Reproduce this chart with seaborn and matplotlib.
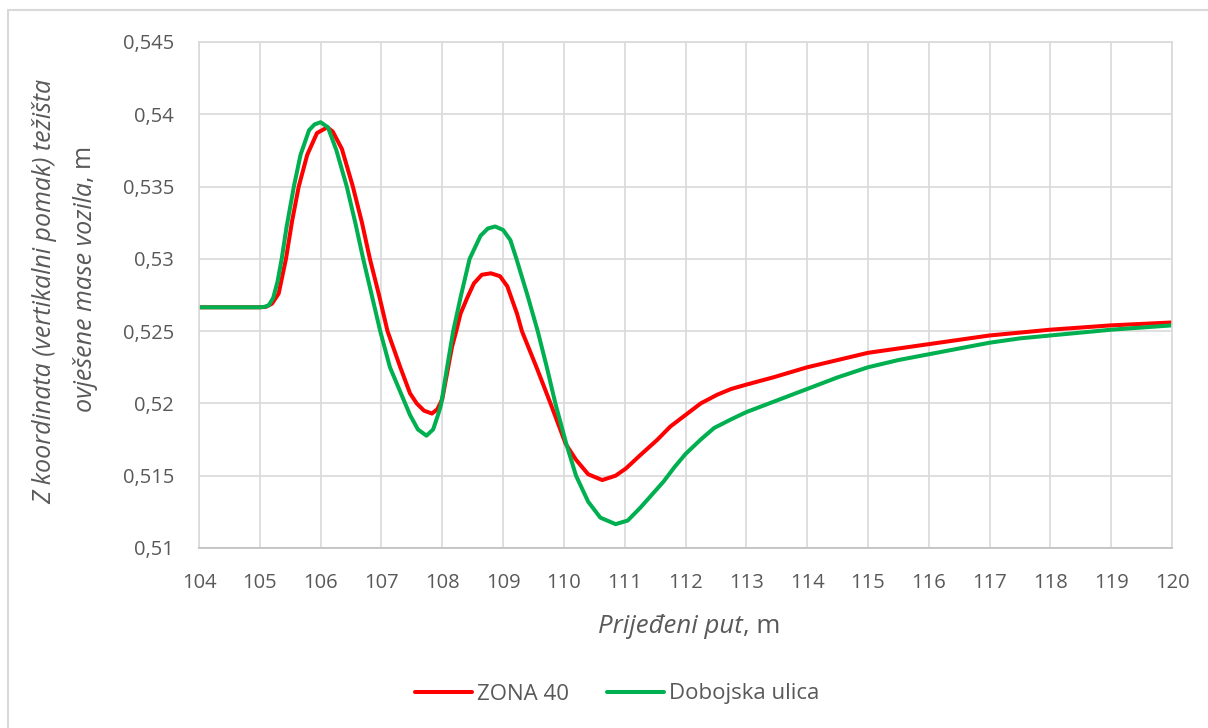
import numpy as np
import pandas as pd
import matplotlib
matplotlib.use('Agg')
import matplotlib.pyplot as plt
import seaborn as sns
from matplotlib.patches import Rectangle

# podaci očitani s grafa
zona_x = [104, 104.5, 105.0, 105.1, 105.2, 105.31, 105.43, 105.53, 105.64, 105.78, 105.94,
          106.11, 106.2, 106.35, 106.53, 106.68, 106.81, 106.96, 107.10, 107.31, 107.47,
          107.58, 107.7, 107.83, 107.92, 108.0, 108.08, 108.16, 108.23, 108.3, 108.41, 108.52,
          108.65, 108.80, 108.95, 109.07, 109.23, 109.31, 109.55, 109.78, 110.03, 110.2,
          110.4, 110.63, 110.85, 111.02, 111.25, 111.54, 111.75, 112.0, 112.25, 112.52,
          112.75, 113.0, 113.44, 114.0, 114.5, 115.0, 115.5, 116.0, 116.5, 117.0, 117.5,
          118.0, 118.5, 119.0, 119.5, 120.0]
zona_y = [0.52665, 0.52665, 0.52665, 0.52668, 0.5269, 0.5276, 0.5300, 0.5326, 0.5350, 0.5372,
          0.5387, 0.5391, 0.5388, 0.5376, 0.5350, 0.5325, 0.5300, 0.5275, 0.5250, 0.5225,
          0.5207, 0.5200, 0.5195, 0.5193, 0.5196, 0.5203, 0.5221, 0.5239, 0.5250, 0.5262,
          0.5273, 0.5283, 0.5289, 0.5290, 0.5288, 0.5281, 0.5262, 0.5250, 0.5225, 0.5200,
          0.5172, 0.5161, 0.5151, 0.5147, 0.5150, 0.5155, 0.5164, 0.5175, 0.5184, 0.5192,
          0.5200, 0.5206, 0.5210, 0.5213, 0.5218, 0.5225, 0.5230, 0.5235, 0.5238, 0.5241,
          0.5244, 0.5247, 0.5249, 0.5251, 0.52525, 0.5254, 0.5255, 0.5256]

dob_x = [104, 104.5, 105.0, 105.08, 105.15, 105.22, 105.29, 105.36, 105.44, 105.56, 105.67,
         105.81, 105.9, 106.0, 106.12, 106.26, 106.43, 106.57, 106.70, 106.84, 106.98, 107.14,
         107.39, 107.47, 107.6, 107.74, 107.85, 107.93, 107.98, 108.08, 108.18, 108.31, 108.45,
         108.63, 108.75, 108.87, 109.0, 109.12, 109.22, 109.4, 109.57, 109.72, 109.86, 110.04,
         110.2, 110.4, 110.6, 110.85, 111.05, 111.26, 111.45, 111.64, 111.82, 112.0, 112.25,
         112.47, 112.75, 113.0, 113.5, 114.0, 114.5, 115.0, 115.5, 116.0, 116.5, 117.0,
         117.5, 118.0, 118.5, 119.0, 119.5, 120.0]
dob_y = [0.52665, 0.52665, 0.52665, 0.52668, 0.5268, 0.5273, 0.5284, 0.5300, 0.5322, 0.5350,
         0.5372, 0.5389, 0.5393, 0.53945, 0.5391, 0.5375, 0.5350, 0.5325, 0.5300, 0.5275,
         0.5250, 0.5225, 0.5200, 0.5192, 0.5182, 0.51777, 0.5182, 0.5192, 0.5199, 0.5225,
         0.5250, 0.5275, 0.5300, 0.5316, 0.5321, 0.53224, 0.5320, 0.5313, 0.5300, 0.5275,
         0.5250, 0.5225, 0.5200, 0.5172, 0.5150, 0.5132, 0.5121, 0.51165, 0.5119, 0.5128,
         0.5137, 0.5146, 0.5156, 0.5165, 0.5175, 0.5183, 0.5189, 0.5194, 0.5202, 0.5210,
         0.5218, 0.5225, 0.5230, 0.5234, 0.5238, 0.5242, 0.5245, 0.5247, 0.5249, 0.5251,
         0.52525, 0.5254]

x_ticks = list(range(104, 121))
y_ticks = [0.51, 0.515, 0.52, 0.525, 0.53, 0.535, 0.54, 0.545]
y_tick_labels = ['0,51', '0,515', '0,52', '0,525', '0,53', '0,535', '0,54', '0,545']

df1 = pd.DataFrame({'x': zona_x, 'y': zona_y})
df2 = pd.DataFrame({'x': dob_x, 'y': dob_y})

sns.set_theme(style='whitegrid')
plt.rcParams['font.family'] = ['Open Sans', 'DejaVu Sans']
siva = '#595959'

fig = plt.figure(figsize=(12.08, 7.28), dpi=100)
ax = fig.add_axes([199 / 1208, 1 - 548 / 728, (1172 - 199) / 1208, (548 - 42) / 728])

sns.lineplot(data=df1, x='x', y='y', color='#FF0000', linewidth=2.9, label='ZONA 40', ax=ax,
             legend=False, solid_joinstyle='round', solid_capstyle='round')
sns.lineplot(data=df2, x='x', y='y', color='#00B050', linewidth=2.9, label='Dobojska ulica', ax=ax,
             legend=False, solid_joinstyle='round', solid_capstyle='round')

ax.set_xlim(104, 120)
ax.set_ylim(0.51, 0.545)
ax.set_xticks(x_ticks)
ax.set_xticklabels([str(t) for t in x_ticks])
ax.set_yticks(y_ticks)
ax.set_yticklabels(y_tick_labels)
ax.tick_params(axis='both', labelsize=14.5, colors=siva, length=0)
ax.tick_params(axis='x', pad=18)
ax.tick_params(axis='y', pad=18)
ax.grid(True, color='#D9D9D9', linewidth=1.2)
for s in ax.spines.values():
    s.set_color('#D9D9D9')
    s.set_linewidth(1.2)
ax.spines['bottom'].set_color('#BFBFBF')
ax.set_xlabel('')
ax.set_ylabel('')

# naslov x osi
t1 = fig.text(743 / 1208, 1 - 633 / 728, 'Prijeđeni put', style='italic', fontsize=18.5,
              color=siva, ha='right', va='baseline')
ax.annotate(', m', xy=(1, 0), xycoords=t1, ha='left', va='bottom',
            fontsize=18.5, color=siva, annotation_clip=False)

# naslov y osi
fig.text(45 / 1208, 1 - 291 / 728, 'Z koordinata (vertikalni pomak) težišta', style='italic',
         fontsize=18, color=siva, rotation=90, ha='center', va='center')
t2 = fig.text(85 / 1208, 1 - 412 / 728, 'ovješene mase vozila', style='italic', fontsize=18,
              color=siva, rotation=90, ha='center', va='bottom')
ax.annotate(', m', xy=(0.5, 1), xycoords=t2, ha='center', va='bottom', rotation=90,
            fontsize=18, color=siva, annotation_clip=False)

h, l = ax.get_legend_handles_labels()
fig.legend(h, l, loc='center', bbox_to_anchor=(617 / 1208, 1 - 694 / 728), ncol=2,
           frameon=False, fontsize=16, labelcolor=siva, handlelength=2.6,
           handletextpad=0.2, columnspacing=1.7)

fig.patches.append(Rectangle((8 / 1208, -0.05), 1.2, 1 - 10 / 728 + 0.05,
                             transform=fig.transFigure, fill=False, edgecolor='#D9D9D9',
                             linewidth=1.5, zorder=-1))

fig.savefig('out.png', dpi=100, facecolor='white')
